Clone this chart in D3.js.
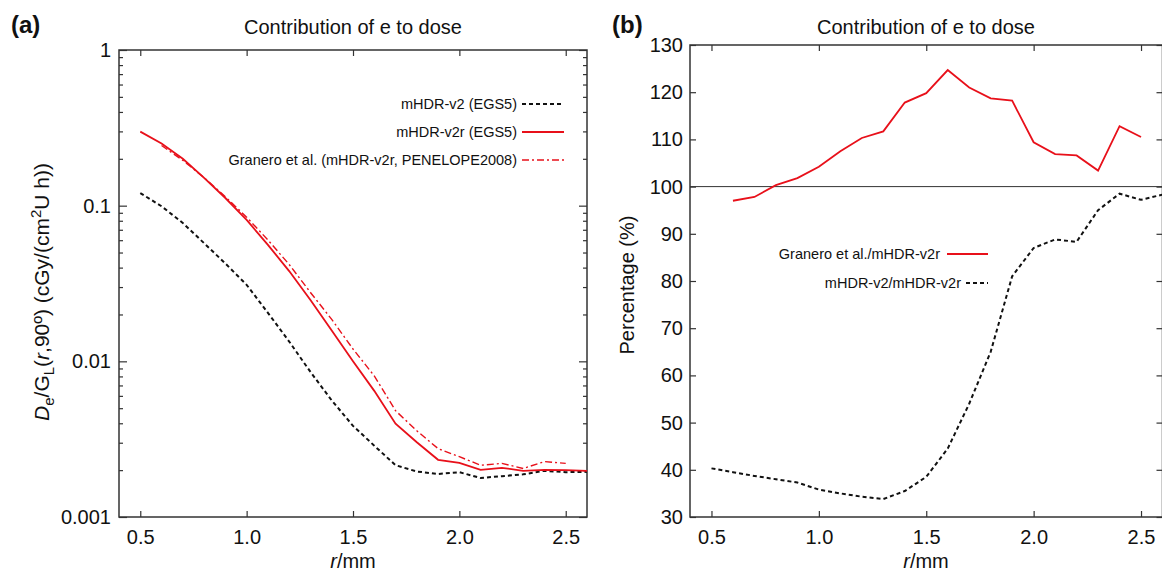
<!DOCTYPE html>
<html>
<head>
<meta charset="utf-8">
<script src="https://d3js.org/d3.v7.min.js"></script>
<style>
  body { margin: 0; background: #fff; }
  svg { font-family: "Liberation Sans", Arial, sans-serif; }
  .axis text { font-size: 20px; fill: #111; }
  .axis line { stroke: #333; stroke-width: 1.2; }
</style>
</head>
<body>
<div id="chart"></div>
<script>
// r positions (mm)
const rValues = [0.5, 0.6, 0.7, 0.8, 0.9, 1.0, 1.1, 1.2, 1.3, 1.4, 1.5, 1.6, 1.7, 1.8, 1.9, 2.0, 2.1, 2.2, 2.3, 2.4, 2.5, 2.6];
const rGranero = [0.6, 0.7, 0.8, 0.9, 1.0, 1.1, 1.2, 1.3, 1.4, 1.5, 1.6, 1.7, 1.8, 1.9, 2.0, 2.1, 2.2, 2.3, 2.4, 2.5];

// (a) electron dose per unit air-kerma strength
const doseV2 = [0.1205, 0.0991, 0.0774, 0.0574, 0.0425, 0.031, 0.0205, 0.0134, 0.00855, 0.00561, 0.00385, 0.00287, 0.00215, 0.00196, 0.00189, 0.00194, 0.00178, 0.00183, 0.00188, 0.00198, 0.00194, 0.00195];
const doseV2r = [0.299, 0.251, 0.2, 0.151, 0.112, 0.081, 0.056, 0.038, 0.0248, 0.0158, 0.01, 0.00646, 0.00398, 0.00302, 0.00233, 0.00223, 0.00201, 0.00207, 0.00198, 0.00201, 0.002, 0.00198];
const doseGranero = [0.2435, 0.1956, 0.1515, 0.114, 0.0844, 0.0602, 0.0419, 0.0277, 0.0186, 0.012, 0.00806, 0.00482, 0.00358, 0.00275, 0.00244, 0.00215, 0.00221, 0.00205, 0.00227, 0.00221];

// (b) ratios (%)
const pctGranero = [97.0, 97.8, 100.3, 101.8, 104.2, 107.5, 110.3, 111.7, 117.8, 119.8, 124.7, 121.0, 118.7, 118.2, 109.4, 106.9, 106.6, 103.4, 112.8, 110.5];
const pctV2 = [40.3, 39.5, 38.7, 38.0, 37.3, 35.8, 35.0, 34.3, 33.8, 35.5, 38.5, 44.5, 54.0, 65.0, 81.0, 87.0, 88.8, 88.3, 95.0, 98.5, 97.2, 98.3];

const xTicks = [0.5, 1.0, 1.5, 2.0, 2.5];
const logTicks = [0.001, 0.01, 0.1, 1];
const logLabels = ["0.001", "0.01", "0.1", "1"];
const pctTicks = [30, 40, 50, 60, 70, 80, 90, 100, 110, 120, 130];

const title = "Contribution of e to dose";
const legendA = ["mHDR-v2 (EGS5)", "mHDR-v2r (EGS5)", "Granero et al. (mHDR-v2r, PENELOPE2008)"];
const legendB = ["Granero et al./mHDR-v2r", "mHDR-v2/mHDR-v2r"];

const red = "#e8101a";
const dashed = "4,3";
const dashDot = "7,3,2,3";

const svg = d3.select("#chart").append("svg")
  .attr("width", 1162).attr("height", 574);

function series(xs, ys) {
  return xs.map((r, i) => ({ r: r, v: ys[i] }));
}

// ---------- panel (a) ----------
const xa = d3.scaleLinear().domain([0.4, 2.6]).range([119, 587]);
const ya = d3.scaleLog().domain([0.001, 1]).range([517, 50]);

const minorLog = [];
[0.001, 0.01, 0.1].forEach((d) => {
  for (let k = 2; k <= 9; k++) minorLog.push(d * k);
});

const ga = svg.append("g");

ga.append("g").attr("class", "axis")
  .attr("transform", `translate(0, ${ya.range()[0]})`)
  .call(d3.axisBottom(xa).tickValues(xTicks).tickSize(-6).tickPadding(13).tickFormat(d3.format(".1f")))
  .select(".domain").remove();
ga.append("g").attr("class", "axis")
  .attr("transform", `translate(0, ${ya.range()[1]})`)
  .call(d3.axisTop(xa).tickValues(xTicks).tickSize(-6).tickFormat(""))
  .select(".domain").remove();
ga.append("g").attr("class", "axis")
  .attr("transform", `translate(${xa.range()[0]}, 0)`)
  .call(d3.axisLeft(ya).tickValues(logTicks).tickSize(-8).tickPadding(8).tickFormat((d, i) => logLabels[i]))
  .select(".domain").remove();
ga.append("g").attr("class", "axis")
  .attr("transform", `translate(${xa.range()[0]}, 0)`)
  .call(d3.axisLeft(ya).tickValues(minorLog).tickSize(-4).tickFormat(""))
  .select(".domain").remove();
ga.append("g").attr("class", "axis")
  .attr("transform", `translate(${xa.range()[1]}, 0)`)
  .call(d3.axisRight(ya).tickValues(logTicks).tickSize(-8).tickFormat(""))
  .select(".domain").remove();
ga.append("g").attr("class", "axis")
  .attr("transform", `translate(${xa.range()[1]}, 0)`)
  .call(d3.axisRight(ya).tickValues(minorLog).tickSize(-4).tickFormat(""))
  .select(".domain").remove();

ga.append("rect")
  .attr("x", xa.range()[0]).attr("y", ya.range()[1])
  .attr("width", xa.range()[1] - xa.range()[0])
  .attr("height", ya.range()[0] - ya.range()[1])
  .attr("fill", "none").attr("stroke", "#333").attr("stroke-width", 1.5);

const lineA = d3.line().x((d) => xa(d.r)).y((d) => ya(d.v));

ga.append("path").datum(series(rValues, doseV2))
  .attr("d", lineA).attr("fill", "none")
  .attr("stroke", "#111").attr("stroke-width", 2).attr("stroke-dasharray", dashed);
ga.append("path").datum(series(rValues, doseV2r))
  .attr("d", lineA).attr("fill", "none")
  .attr("stroke", red).attr("stroke-width", 1.8);
ga.append("path").datum(series(rGranero, doseGranero))
  .attr("d", lineA).attr("fill", "none")
  .attr("stroke", red).attr("stroke-width", 1.4).attr("stroke-dasharray", dashDot);

// legend (a)
const legA = ga.append("g").attr("font-size", 14.5);
const legAStyles = [
  { color: "#111", dash: dashed, w: 2 },
  { color: red, dash: null, w: 2 },
  { color: red, dash: dashDot, w: 1.4 },
];
legendA.forEach((t, i) => {
  const y = 104 + i * 28;
  legA.append("text").attr("x", 517).attr("y", y + 5)
    .attr("text-anchor", "end").attr("fill", "#111").text(t);
  legA.append("line").attr("x1", 522).attr("x2", 564).attr("y1", y).attr("y2", y)
    .attr("stroke", legAStyles[i].color).attr("stroke-width", legAStyles[i].w)
    .attr("stroke-dasharray", legAStyles[i].dash);
});

ga.append("text").attr("x", 353).attr("y", 34).attr("text-anchor", "middle")
  .attr("font-size", 20).attr("fill", "#111").text(title);

ga.append("text").attr("x", 11).attr("y", 33)
  .attr("font-size", 24).attr("font-weight", "bold").attr("fill", "#111").text("(a)");

const ylabA = ga.append("text")
  .attr("transform", "translate(49, 292) rotate(-90)")
  .attr("text-anchor", "middle").attr("font-size", 21).attr("fill", "#111");
ylabA.append("tspan").attr("font-style", "italic").text("D");
ylabA.append("tspan").attr("font-size", 15).attr("dy", 5).text("e");
ylabA.append("tspan").attr("dy", -5).text("/G");
ylabA.append("tspan").attr("font-size", 15).attr("dy", 5).text("L");
ylabA.append("tspan").attr("dy", -5).text("(");
ylabA.append("tspan").attr("font-style", "italic").text("r");
ylabA.append("tspan").text(",90º) (cGy/(cm");
ylabA.append("tspan").attr("font-size", 15).attr("dy", -8).text("2");
ylabA.append("tspan").attr("dy", 8).text("U h))");

const xlabA = ga.append("text").attr("x", 353).attr("y", 568)
  .attr("text-anchor", "middle").attr("font-size", 20).attr("fill", "#111");
xlabA.append("tspan").attr("font-style", "italic").text("r");
xlabA.append("tspan").text("/mm");

// ---------- panel (b) ----------
const xb = d3.scaleLinear().domain([0.4, 2.6]).range([690, 1162.5]);
const yb = d3.scaleLinear().domain([30, 130]).range([517, 45]);

const gb = svg.append("g");

gb.append("g").attr("class", "axis")
  .attr("transform", `translate(0, ${yb.range()[0]})`)
  .call(d3.axisBottom(xb).tickValues(xTicks).tickSize(-6).tickPadding(13).tickFormat(d3.format(".1f")))
  .select(".domain").remove();
gb.append("g").attr("class", "axis")
  .attr("transform", `translate(0, ${yb.range()[1]})`)
  .call(d3.axisTop(xb).tickValues(xTicks).tickSize(-6).tickFormat(""))
  .select(".domain").remove();
gb.append("g").attr("class", "axis")
  .attr("transform", `translate(${xb.range()[0]}, 0)`)
  .call(d3.axisLeft(yb).tickValues(pctTicks).tickSize(-6).tickPadding(7))
  .select(".domain").remove();
gb.append("g").attr("class", "axis")
  .attr("transform", `translate(${xb.range()[1]}, 0)`)
  .call(d3.axisRight(yb).tickValues(pctTicks).tickSize(-6).tickFormat(""))
  .select(".domain").remove();

gb.append("rect")
  .attr("x", xb.range()[0]).attr("y", yb.range()[1])
  .attr("width", xb.range()[1] - xb.range()[0])
  .attr("height", yb.range()[0] - yb.range()[1])
  .attr("fill", "none").attr("stroke", "#333").attr("stroke-width", 1.5);

gb.append("line")
  .attr("x1", xb.range()[0]).attr("x2", xb.range()[1])
  .attr("y1", yb(100)).attr("y2", yb(100))
  .attr("stroke", "#333").attr("stroke-width", 1);

const lineB = d3.line().x((d) => xb(d.r)).y((d) => yb(d.v));

gb.append("path").datum(series(rGranero, pctGranero))
  .attr("d", lineB).attr("fill", "none")
  .attr("stroke", red).attr("stroke-width", 1.8);
gb.append("path").datum(series(rValues, pctV2))
  .attr("d", lineB).attr("fill", "none")
  .attr("stroke", "#111").attr("stroke-width", 2).attr("stroke-dasharray", dashed);

// legend (b)
const legB = gb.append("g").attr("font-size", 14.5);
legB.append("text").attr("x", 940).attr("y", 259).attr("text-anchor", "end")
  .attr("fill", "#111").text(legendB[0]);
legB.append("line").attr("x1", 947).attr("x2", 988).attr("y1", 254).attr("y2", 254)
  .attr("stroke", red).attr("stroke-width", 2);
legB.append("text").attr("x", 961).attr("y", 288).attr("text-anchor", "end")
  .attr("fill", "#111").text(legendB[1]);
legB.append("line").attr("x1", 966).attr("x2", 988).attr("y1", 283).attr("y2", 283)
  .attr("stroke", "#111").attr("stroke-width", 2).attr("stroke-dasharray", dashed);

gb.append("text").attr("x", 926).attr("y", 34).attr("text-anchor", "middle")
  .attr("font-size", 20).attr("fill", "#111").text(title);

gb.append("text").attr("x", 612).attr("y", 33)
  .attr("font-size", 24).attr("font-weight", "bold").attr("fill", "#111").text("(b)");

gb.append("text")
  .attr("transform", "translate(634, 285) rotate(-90)")
  .attr("text-anchor", "middle").attr("font-size", 20).attr("fill", "#111")
  .text("Percentage (%)");

const xlabB = gb.append("text").attr("x", 926).attr("y", 568)
  .attr("text-anchor", "middle").attr("font-size", 20).attr("fill", "#111");
xlabB.append("tspan").attr("font-style", "italic").text("r");
xlabB.append("tspan").text("/mm");
</script>
</body>
</html>
